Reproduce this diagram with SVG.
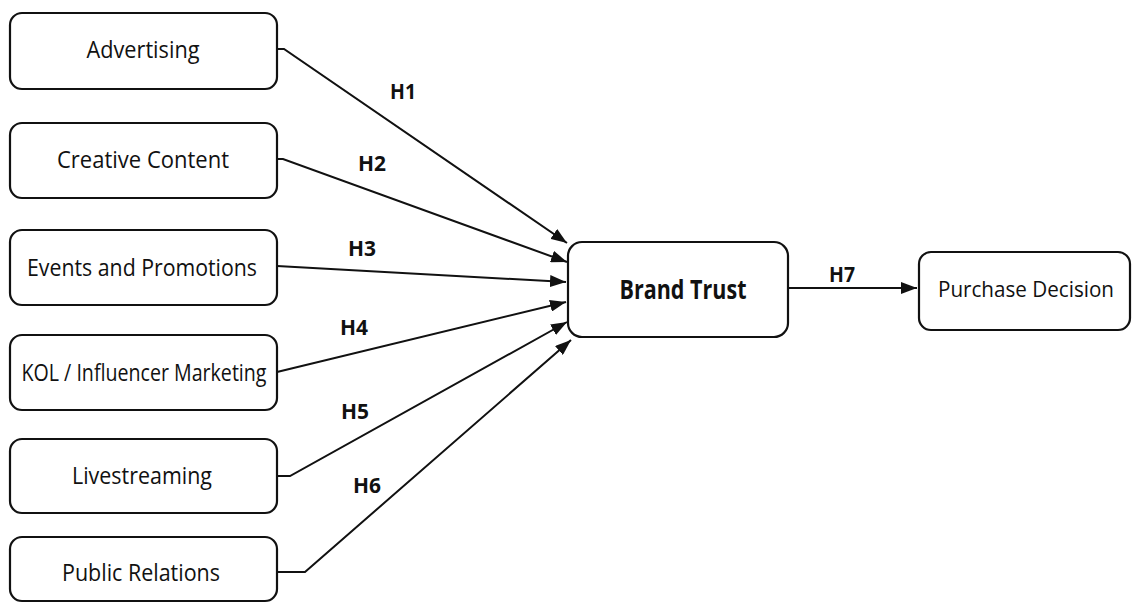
<svg xmlns="http://www.w3.org/2000/svg" width="1137" height="605" viewBox="0 0 1137 605">
<style>
.box{fill:#fff;stroke:#111;stroke-width:2.2}
.t{font-family:"Open Sans","Noto Sans",sans-serif;font-size:23.5px;fill:#111;text-anchor:middle;dominant-baseline:central}
.b{font-family:"Open Sans","Noto Sans",sans-serif;font-size:22px;font-weight:bold;fill:#111;text-anchor:middle;dominant-baseline:central}
.c{fill:none;stroke:#111;stroke-width:2}
</style>
<defs>
<marker id="ah" viewBox="0 0 16 12" refX="16" refY="6" markerWidth="16" markerHeight="12" markerUnits="userSpaceOnUse" orient="auto">
<path d="M0,0 L16,6 L0,12 z" fill="#111"/>
</marker>
</defs>
<rect width="1137" height="605" fill="#fff"/>
<g id="n-advertising"><rect class="box" x="10" y="13" width="267" height="76" rx="12"/><text class="t" x="143" y="49" textLength="113" lengthAdjust="spacingAndGlyphs">Advertising</text></g>
<g id="n-creative"><rect class="box" x="10" y="123" width="267" height="75" rx="12"/><text class="t" x="143" y="159" textLength="172" lengthAdjust="spacingAndGlyphs">Creative Content</text></g>
<g id="n-events"><rect class="box" x="10" y="230" width="267" height="75" rx="12"/><text class="t" x="142" y="267" textLength="230" lengthAdjust="spacingAndGlyphs">Events and Promotions</text></g>
<g id="n-kol"><rect class="box" x="10" y="335" width="267" height="75" rx="12"/><text class="t" x="144" y="372" textLength="245" lengthAdjust="spacingAndGlyphs">KOL / Influencer Marketing</text></g>
<g id="n-live"><rect class="box" x="10" y="439" width="267" height="74" rx="12"/><text class="t" x="142" y="475" textLength="140" lengthAdjust="spacingAndGlyphs">Livestreaming</text></g>
<g id="n-pr"><rect class="box" x="10" y="537" width="267" height="64" rx="12"/><text class="t" x="141" y="572" textLength="158" lengthAdjust="spacingAndGlyphs">Public Relations</text></g>
<g id="n-brand"><rect class="box" x="568" y="242" width="220" height="95" rx="14"/><text class="b" x="683" y="288" style="font-size:27px" textLength="127" lengthAdjust="spacingAndGlyphs">Brand Trust</text></g>
<g id="n-purchase"><rect class="box" x="919" y="252" width="211" height="78" rx="12"/><text class="t" x="1026" y="289" style="font-size:21px" textLength="176" lengthAdjust="spacingAndGlyphs">Purchase Decision</text></g>
<g id="connectors">
<path class="c" d="M277,49 L284,49 L567,243" marker-end="url(#ah)"/>
<path class="c" d="M277,159 L283,159 L567,262" marker-end="url(#ah)"/>
<path class="c" d="M277,266 L566,282" marker-end="url(#ah)"/>
<path class="c" d="M277,372 L566,302" marker-end="url(#ah)"/>
<path class="c" d="M277,476 L290,476 L567,322" marker-end="url(#ah)"/>
<path class="c" d="M277,572 L305,572 L571,340" marker-end="url(#ah)"/>
<path class="c" d="M788,288 L917,288" marker-end="url(#ah)"/>
</g>
<g id="labels">
<text class="b" x="403" y="90" textLength="26" lengthAdjust="spacingAndGlyphs">H1</text>
<text class="b" x="372" y="162" textLength="28" lengthAdjust="spacingAndGlyphs">H2</text>
<text class="b" x="362" y="247" textLength="28" lengthAdjust="spacingAndGlyphs">H3</text>
<text class="b" x="354" y="326" textLength="28" lengthAdjust="spacingAndGlyphs">H4</text>
<text class="b" x="355" y="410" textLength="28" lengthAdjust="spacingAndGlyphs">H5</text>
<text class="b" x="367" y="484" textLength="28" lengthAdjust="spacingAndGlyphs">H6</text>
<text class="b" x="842" y="273" textLength="26" lengthAdjust="spacingAndGlyphs">H7</text>
</g>
</svg>
